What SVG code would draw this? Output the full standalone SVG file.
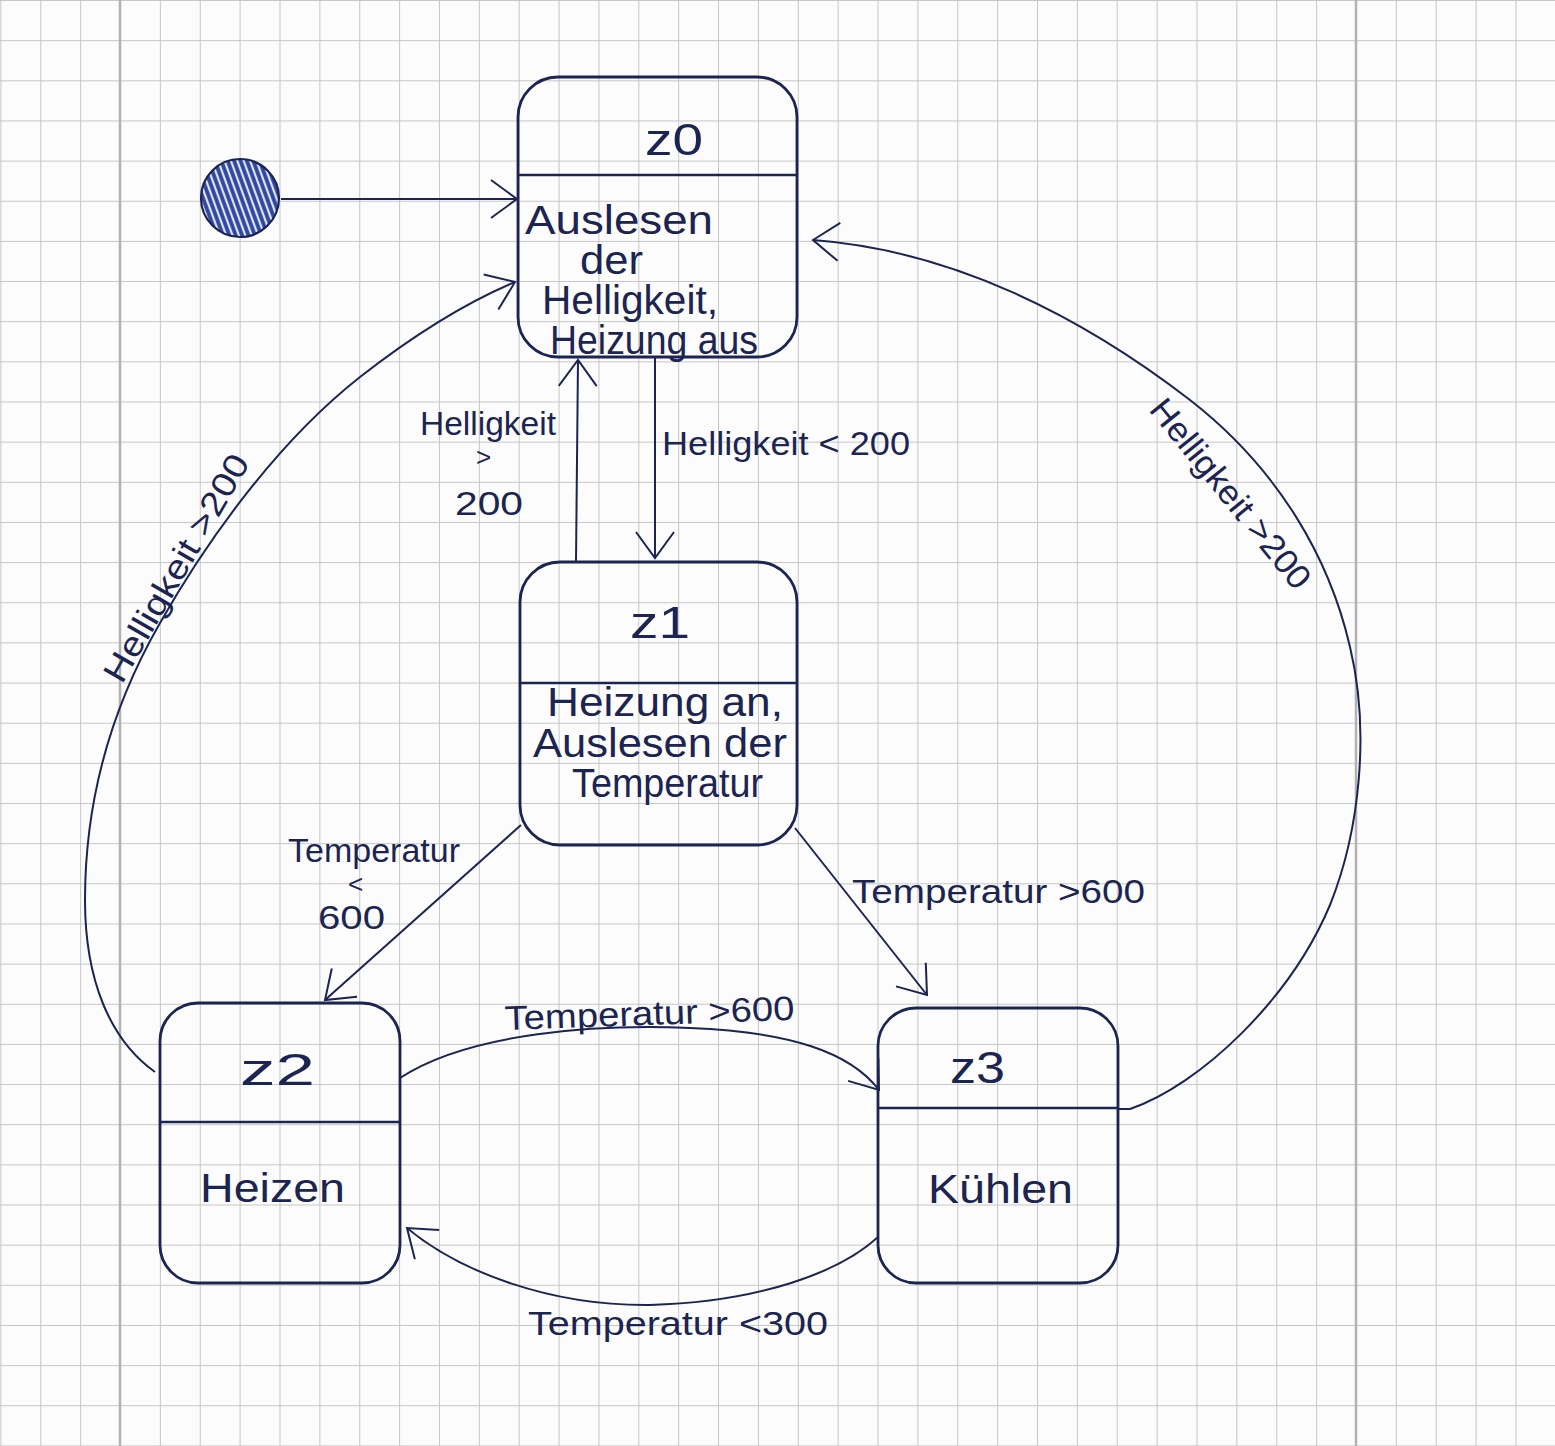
<svg xmlns="http://www.w3.org/2000/svg" width="1555" height="1446" viewBox="0 0 1555 1446">
  <style>
    .box { fill: none; stroke: #1c2452; stroke-width: 2.8; }
    .div { stroke: #1c2452; stroke-width: 2.6; }
    .edge { fill: none; stroke: #1c2452; stroke-width: 2; }
    .title { font-family: "Liberation Sans", Arial, sans-serif; font-size: 44px; fill: #1c2452; }
    .body { font-family: "Liberation Sans", Arial, sans-serif; font-size: 40px; fill: #1c2452; }
    .lbl { font-family: "Liberation Sans", Arial, sans-serif; font-size: 34px; fill: #1c2452; }
  </style>
  <defs>
    <pattern id="gridV" x="0.39" y="0" width="39.87" height="1446" patternUnits="userSpaceOnUse">
      <line x1="0.5" y1="0" x2="0.5" y2="1446" stroke="#c6c6c6" stroke-width="1"/>
    </pattern>
    <pattern id="gridH" x="0" y="0" width="1555" height="40.15" patternUnits="userSpaceOnUse">
      <line x1="0" y1="0.5" x2="1555" y2="0.5" stroke="#c6c6c6" stroke-width="1"/>
    </pattern>
    <pattern id="hatch" width="6" height="6" patternUnits="userSpaceOnUse" patternTransform="rotate(70)">
      <rect width="6" height="6" fill="#dfe4f5"/>
      <line x1="0" y1="3" x2="6" y2="3" stroke="#2f47a0" stroke-width="3.8"/>
    </pattern>
    <marker id="arrow" viewBox="0 0 40 40" markerWidth="40" markerHeight="40" refX="38" refY="20" orient="auto" markerUnits="userSpaceOnUse">
      <path d="M12,1 L38,20 L12,39" fill="none" stroke="#1c2452" stroke-width="2"/>
    </marker>
  </defs>

  <g id="paper">
    <rect width="1555" height="1446" fill="#fcfcfc"/>
    <rect width="1555" height="1446" fill="url(#gridV)"/>
    <rect width="1555" height="1446" fill="url(#gridH)"/>
    <line x1="120" y1="0" x2="120" y2="1446" stroke="#b2b2b2" stroke-width="2.5"/>
    <line x1="1356" y1="0" x2="1356" y2="1446" stroke="#b2b2b2" stroke-width="2.5"/>
  </g>

  <g id="connectors">
    <path id="e-init" class="edge" d="M281,199 L517,199" marker-end="url(#arrow)"/>
    <path id="e-z0-z1" class="edge" d="M655,358 L655,558" marker-end="url(#arrow)"/>
    <path id="e-z1-z0" class="edge" d="M576,562 L578,360" marker-end="url(#arrow)"/>
    <path id="e-z1-z2" class="edge" d="M521,825 L325,1000" marker-end="url(#arrow)"/>
    <path id="e-z1-z3" class="edge" d="M795,828 L927,995" marker-end="url(#arrow)"/>
    <path id="e-z2-z3" class="edge" d="M400,1078 C 470,1032 600,1024 690,1028 C 790,1032 850,1052 879,1090" marker-end="url(#arrow)"/>
    <path id="e-z3-z2" class="edge" d="M878,1237 C 840,1272 760,1302 650,1305 C 550,1306 460,1272 407,1228" marker-end="url(#arrow)"/>
    <path id="e-z2-z0" class="edge" d="M155,1072 C 110,1040 85,980 85,900 C 85,800 110,710 160,623 C 210,535 280,440 360,377 C 410,338 460,305 515,282" marker-end="url(#arrow)"/>
    <path id="e-z3-z0" class="edge" d="M1118,1109 L1130,1109 C 1200,1085 1290,1000 1330,905 C 1360,830 1370,730 1350,647 C 1330,560 1280,470 1190,400 C 1080,315 950,250 813,240" marker-end="url(#arrow)"/>
  </g>

  <g id="labels">
    <text class="lbl" x="662" y="455" textLength="248" lengthAdjust="spacingAndGlyphs">Helligkeit &lt; 200</text>
    <text class="lbl" font-size="30">
      <tspan x="420" y="435" textLength="136" lengthAdjust="spacingAndGlyphs">Helligkeit</tspan>
      <tspan x="476" y="466" font-size="26">&gt;</tspan>
      <tspan x="455" y="515" font-size="34" textLength="68" lengthAdjust="spacingAndGlyphs">200</tspan>
    </text>
    <text class="lbl" font-size="32">
      <tspan x="288" y="862" textLength="172" lengthAdjust="spacingAndGlyphs">Temperatur</tspan>
      <tspan x="348" y="893" font-size="26">&lt;</tspan>
      <tspan x="318" y="929" textLength="67" lengthAdjust="spacingAndGlyphs">600</tspan>
    </text>
    <text class="lbl" x="852" y="903" textLength="293" lengthAdjust="spacingAndGlyphs">Temperatur &gt;600</text>
    <text class="lbl" transform="translate(505,1030) rotate(-2)" textLength="290" lengthAdjust="spacingAndGlyphs">Temperatur &gt;600</text>
    <text class="lbl" x="528" y="1335" font-size="36" textLength="300" lengthAdjust="spacingAndGlyphs">Temperatur &lt;300</text>
    <text class="lbl" transform="translate(122,685) rotate(-60)" textLength="257" lengthAdjust="spacingAndGlyphs">Helligkeit &gt;200</text>
    <text class="lbl" font-size="32" transform="translate(1148,410) rotate(51)" textLength="234" lengthAdjust="spacingAndGlyphs">Helligkeit &gt;200</text>
  </g>

  <g id="initial">
    <circle cx="240" cy="198" r="39" fill="url(#hatch)" stroke="#1c2452" stroke-width="2.2"/>
  </g>

  <g id="z0">
    <rect class="box" x="518" y="77" width="279" height="280" rx="40" ry="40"/>
    <line class="div" x1="518" y1="175" x2="797" y2="175"/>
    <text class="title" x="645" y="155" textLength="58" lengthAdjust="spacingAndGlyphs">z0</text>
    <text class="body" x="525" y="234" font-size="35" textLength="188" lengthAdjust="spacingAndGlyphs">Auslesen</text>
    <text class="body" x="580" y="274" font-size="35" textLength="63" lengthAdjust="spacingAndGlyphs">der</text>
    <text class="body" x="542" y="314" font-size="35" textLength="176" lengthAdjust="spacingAndGlyphs">Helligkeit,</text>
    <text class="body" x="550" y="354" font-size="34" textLength="208" lengthAdjust="spacingAndGlyphs">Heizung aus</text>
  </g>

  <g id="z1">
    <rect class="box" x="520" y="562" width="277" height="283" rx="40" ry="40"/>
    <line class="div" x1="520" y1="683" x2="797" y2="683"/>
    <text class="title" x="630" y="638" font-size="40" textLength="60" lengthAdjust="spacingAndGlyphs">z1</text>
    <text class="body" x="547" y="716" font-size="33" textLength="236" lengthAdjust="spacingAndGlyphs">Heizung an,</text>
    <text class="body" x="533" y="756.5" font-size="33" textLength="254" lengthAdjust="spacingAndGlyphs">Auslesen der</text>
    <text class="body" x="572" y="797" font-size="33" textLength="191" lengthAdjust="spacingAndGlyphs">Temperatur</text>
  </g>

  <g id="z2">
    <rect class="box" x="160" y="1003" width="240" height="280" rx="38" ry="38"/>
    <line class="div" x1="160" y1="1122" x2="400" y2="1122"/>
    <text class="title" x="240" y="1085" font-size="46" textLength="75" lengthAdjust="spacingAndGlyphs">z2</text>
    <text class="body" x="200" y="1202" font-size="44" textLength="145" lengthAdjust="spacingAndGlyphs">Heizen</text>
  </g>

  <g id="z3">
    <rect class="box" x="878" y="1008" width="240" height="275" rx="38" ry="38"/>
    <line class="div" x1="878" y1="1108" x2="1118" y2="1108"/>
    <text class="title" x="950" y="1083" textLength="55" lengthAdjust="spacingAndGlyphs">z3</text>
    <text class="body" x="928" y="1203" font-size="44" textLength="145" lengthAdjust="spacingAndGlyphs">Kühlen</text>
  </g>
</svg>
